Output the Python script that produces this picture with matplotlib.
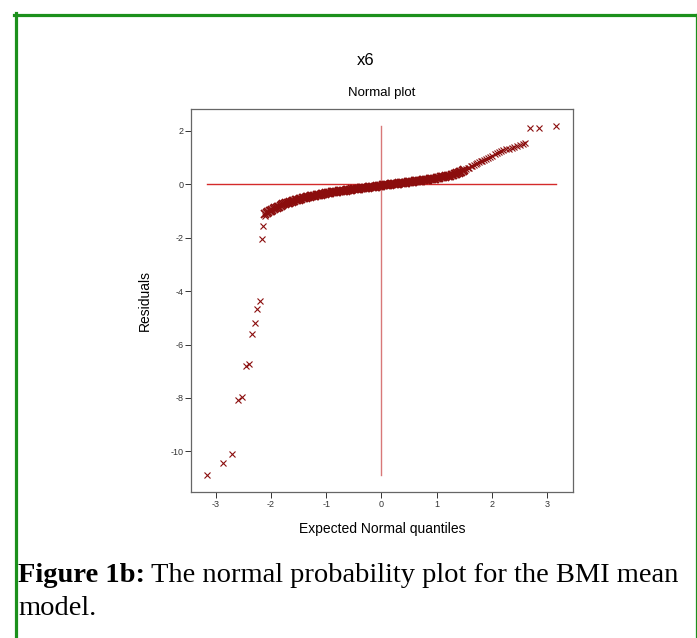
import matplotlib
matplotlib.use("Agg")
import matplotlib.pyplot as plt
from matplotlib.lines import Line2D

# expected normal quantiles and residuals
# lower tail (isolated points)
tail_q = [-3.16, -2.87, -2.71, -2.60, -2.52, -2.45, -2.39, -2.34, -2.29,
          -2.25, -2.20, -2.17, -2.14, -2.11]
tail_r = [-10.88, -10.45, -10.10, -8.08, -7.97, -6.80, -6.74, -5.62, -5.19,
          -4.67, -4.36, -2.05, -1.56, -1.19]

# dense body of the plot
body_q = [
    -2.100, -2.075, -2.050, -2.025, -2.000, -1.975, -1.950, -1.925, -1.900, -1.875,
    -1.850, -1.825, -1.800, -1.775, -1.750, -1.725, -1.700, -1.675, -1.650, -1.625,
    -1.600, -1.575, -1.550, -1.525, -1.500, -1.475, -1.450, -1.425, -1.400, -1.375,
    -1.350, -1.325, -1.300, -1.275, -1.250, -1.225, -1.200, -1.175, -1.150, -1.125,
    -1.100, -1.075, -1.050, -1.025, -1.000, -0.975, -0.950, -0.925, -0.900, -0.875,
    -0.850, -0.825, -0.800, -0.775, -0.750, -0.725, -0.700, -0.675, -0.650, -0.625,
    -0.600, -0.575, -0.550, -0.525, -0.500, -0.475, -0.450, -0.425, -0.400, -0.375,
    -0.350, -0.325, -0.300, -0.275, -0.250, -0.225, -0.200, -0.175, -0.150, -0.125,
    -0.100, -0.075, -0.050, -0.025, 0.000, 0.025, 0.050, 0.075, 0.100, 0.125,
    0.150, 0.175, 0.200, 0.225, 0.250, 0.275, 0.300, 0.325, 0.350, 0.375,
    0.400, 0.425, 0.450, 0.475, 0.500, 0.525, 0.550, 0.575, 0.600, 0.625,
    0.650, 0.675, 0.700, 0.725, 0.750, 0.775, 0.800, 0.825, 0.850, 0.875,
    0.900, 0.925, 0.950, 0.975, 1.000, 1.025, 1.050, 1.075, 1.100, 1.125,
    1.150, 1.175, 1.200, 1.225, 1.250, 1.275, 1.300, 1.325, 1.350, 1.375,
    1.400, 1.425, 1.450, 1.475, 1.500,
]
body_r = [
    -1.12, -1.07, -1.04, -1.01, -0.98, -0.95, -0.93, -0.90, -0.88, -0.85,
    -0.83, -0.80, -0.78, -0.75, -0.73, -0.71, -0.70, -0.68, -0.66, -0.65,
    -0.63, -0.61, -0.60, -0.58, -0.57, -0.55, -0.54, -0.52, -0.51, -0.50,
    -0.48, -0.47, -0.46, -0.45, -0.44, -0.43, -0.42, -0.41, -0.40, -0.39,
    -0.38, -0.37, -0.36, -0.35, -0.34, -0.33, -0.32, -0.31, -0.30, -0.30,
    -0.29, -0.28, -0.27, -0.26, -0.26, -0.25, -0.24, -0.23, -0.23, -0.22,
    -0.21, -0.21, -0.20, -0.19, -0.19, -0.18, -0.17, -0.17, -0.16, -0.15,
    -0.15, -0.14, -0.13, -0.13, -0.12, -0.11, -0.11, -0.10, -0.09, -0.09,
    -0.08, -0.07, -0.07, -0.06, -0.05, -0.04, -0.04, -0.03, -0.02, -0.02,
    -0.01, 0.00, 0.00, 0.01, 0.02, 0.02, 0.03, 0.04, 0.04, 0.05,
    0.06, 0.06, 0.07, 0.08, 0.08, 0.09, 0.10, 0.10, 0.11, 0.12,
    0.12, 0.13, 0.14, 0.14, 0.15, 0.16, 0.16, 0.17, 0.18, 0.19,
    0.19, 0.20, 0.21, 0.22, 0.23, 0.24, 0.25, 0.26, 0.27, 0.28,
    0.29, 0.30, 0.31, 0.32, 0.33, 0.34, 0.35, 0.37, 0.39, 0.41,
    0.43, 0.46, 0.48, 0.51, 0.53,
]

# upper tail
upper_q = [1.53, 1.56, 1.59, 1.62, 1.65, 1.68, 1.71, 1.74, 1.77, 1.80,
           1.83, 1.86, 1.89, 1.93, 1.97, 2.01, 2.05, 2.09, 2.13, 2.17,
           2.21, 2.26, 2.31, 2.36, 2.41, 2.46, 2.51, 2.56, 2.61, 2.70,
           2.86, 3.16]
upper_r = [0.57, 0.60, 0.63, 0.67, 0.70, 0.74, 0.77, 0.80, 0.83, 0.86,
           0.89, 0.92, 0.95, 0.99, 1.03, 1.08, 1.13, 1.17, 1.20, 1.24,
           1.28, 1.31, 1.34, 1.37, 1.40, 1.44, 1.47, 1.51, 1.56, 2.10,
           2.13, 2.18]

x_ticks = [-3, -2, -1, 0, 1, 2, 3]
y_ticks = [2, 0, -2, -4, -6, -8, -10]

plt.rcParams["font.family"] = ["Liberation Sans", "DejaVu Sans"]

fig = plt.figure(figsize=(6.97, 6.38), dpi=100)
ax = fig.add_axes([0.274, 0.229, 0.548, 0.600])

all_q = tail_q + body_q + upper_q
all_r = tail_r + body_r + upper_r

# reference cross through the origin spanning the data range
ax.plot([min(all_q), max(all_q)], [0, 0], color="#d42a2a", lw=1.0, zorder=1)
ax.plot([0, 0], [min(all_r), max(all_r)], color="#d87878", lw=1.0, zorder=1)

mark = "#8b0d0d"
ax.plot(tail_q, tail_r, linestyle="none", marker="x", markersize=4,
        markeredgewidth=0.8, color=mark, zorder=2)
ax.plot(body_q, body_r, linestyle="none", marker="x", markersize=5.5,
        markeredgewidth=1.3, color=mark, zorder=2)
ax.plot(upper_q, upper_r, linestyle="none", marker="x", markersize=4,
        markeredgewidth=0.8, color=mark, zorder=2)

ax.set_xlim(-3.45, 3.47)
ax.set_ylim(-11.52, 2.82)
ax.set_xticks(x_ticks)
ax.set_yticks(y_ticks)
ax.set_xticklabels([str(v) for v in x_ticks])
ax.set_yticklabels([str(v) for v in y_ticks])
ax.tick_params(labelsize=6.5, length=4, width=0.7, colors="#333333", pad=1.5)
for s in ax.spines.values():
    s.set_color("#666666")
    s.set_linewidth(0.9)

ax.set_xlabel("Expected Normal quantiles", fontsize=10, labelpad=10)
ax.set_ylabel("Residuals", fontsize=10, labelpad=13)

fig.text(0.525, 0.905, "x6", ha="center", va="center", fontsize=12)
fig.text(0.548, 0.855, "Normal plot", ha="center", va="center", fontsize=9.5)

# caption
cap_font = "Liberation Serif"
t1 = fig.text(0.026, 0.087, "Figure 1b:", fontsize=20.5, fontweight="bold",
              family=cap_font, va="baseline")
fig.canvas.draw()
bb = t1.get_window_extent()
x_after = bb.x1 / fig.bbox.width + 0.008
fig.text(x_after, 0.087, "The normal probability plot for the BMI mean",
         fontsize=20.5, family=cap_font, va="baseline")
fig.text(0.026, 0.036, "model.", fontsize=20.5, family=cap_font, va="baseline")

# green frame: thick left and top, thin right
green = "#1c901c"
fig.add_artist(Line2D([15.5 / 697, 15.5 / 697], [0, 1 - 13 / 638], color=green,
                      lw=2.3, transform=fig.transFigure))
fig.add_artist(Line2D([14 / 697, 1], [1 - 14.5 / 638, 1 - 14.5 / 638], color=green,
                      lw=2.3, transform=fig.transFigure))
fig.add_artist(Line2D([695.5 / 697, 695.5 / 697], [0, 1 - 14 / 638], color=green,
                      lw=0.9, transform=fig.transFigure))

fig.savefig("out.png", dpi=100)
